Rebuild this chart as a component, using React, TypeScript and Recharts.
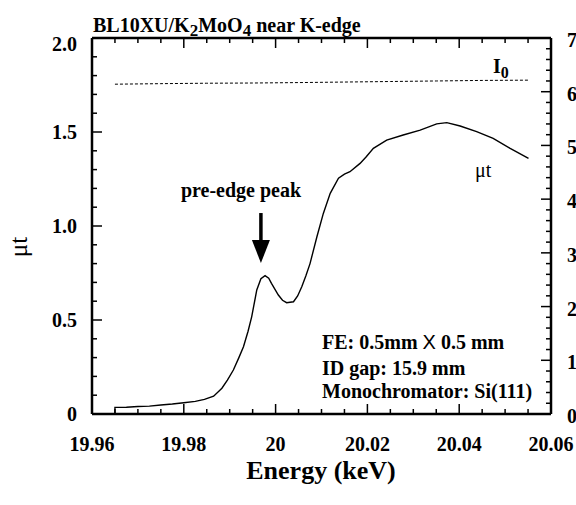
import { LineChart, Line, XAxis, YAxis, ReferenceLine, ReferenceDot } from 'recharts';

// μt (左軸) — 目視で読み取った値
const ENERGY = [
  19.965, 19.965, 19.9675, 19.97, 19.9725, 19.975, 19.9775, 19.98, 19.9825, 19.9845,
  19.9865, 19.9883, 19.9895, 19.9908, 19.992, 19.993, 19.994, 19.9948, 19.9959, 19.9968,
  19.9977, 19.9985, 19.9991, 20.0006, 20.0015, 20.0024, 20.0039, 20.0048, 20.0057, 20.0066,
  20.0075, 20.009, 20.0104, 20.0119, 20.0137, 20.015, 20.0162, 20.0184, 20.0198, 20.0213,
  20.0242, 20.0278, 20.0315, 20.0351, 20.0373, 20.0402, 20.0438, 20.0474, 20.0511, 20.0551,
];
const MU = [
  0, 0.035, 0.036, 0.04, 0.042, 0.048, 0.053, 0.06, 0.067, 0.078,
  0.095, 0.137, 0.18, 0.234, 0.3, 0.358, 0.44, 0.518, 0.66, 0.72,
  0.736, 0.722, 0.695, 0.633, 0.605, 0.592, 0.597, 0.628, 0.677, 0.735,
  0.8, 0.943, 1.067, 1.174, 1.254, 1.276, 1.289, 1.333, 1.37, 1.413,
  1.457, 1.484, 1.51, 1.543, 1.55, 1.532, 1.502, 1.466, 1.413, 1.36,
];

// I0 (右軸)
const I0_ENERGY = [19.965, 19.975, 19.985, 19.995, 20.005, 20.015, 20.025, 20.035, 20.045, 20.055];
const I0 = [6.14, 6.15, 6.158, 6.162, 6.17, 6.18, 6.19, 6.2, 6.21, 6.215];

const X_MAJOR = [19.96, 19.98, 20, 20.02, 20.04, 20.06];
const X_LABELS = ['19.96', '19.98', '20', '20.02', '20.04', '20.06'];
const L_MAJOR = [0, 0.5, 1, 1.5, 2];
const L_LABELS = ['0', '0.5', '1.0', '1.5', '2.0'];
const R_MAJOR = [0, 1, 2, 3, 4, 5, 6, 7];
const R_LABELS = ['0', '1', '2', '3', '4', '5', '6', '7'];

const W = 576;
const H = 505;
const PLOT_H = 376;
const FONT = '"Liberation Serif", "Times New Roman", serif';

function steps(from: number, to: number, step: number): number[] {
  const n = Math.round((to - from) / step);
  return Array.from({ length: n + 1 }, (_, i) => Math.round((from + i * step) * 10000) / 10000);
}

const xTicks = steps(19.96, 20.06, 0.005);
const lTicks = steps(0, 2, 0.1);
const rTicks = steps(0, 7, 0.2);

const muData = ENERGY.map((x, i) => ({ x, mu: MU[i] }));
const i0Data = I0_ENERGY.map((x, i) => ({ x, i0: I0[i] }));

function labelFor(v: number, majors: number[], labels: string[]): string | null {
  const i = majors.findIndex((m) => Math.abs(m - v) < 1e-6);
  return i >= 0 ? labels[i] : null;
}

const tickText = { fontFamily: FONT, fontWeight: 700, fontSize: 20, fill: '#000' };

function XTick(props: any) {
  const { x, y, payload } = props;
  const label = labelFor(payload.value, X_MAJOR, X_LABELS);
  const len = label ? 10 : 5;
  return (
    <g>
      <line x1={x} x2={x} y1={y} y2={y - len} stroke="#000" strokeWidth={1.5} />
      <line x1={x} x2={x} y1={y - PLOT_H} y2={y - PLOT_H + len} stroke="#000" strokeWidth={1.5} />
      {label && (
        <text x={x} y={y + 37} textAnchor="middle" style={tickText}>
          {label}
        </text>
      )}
    </g>
  );
}

function LeftTick(props: any) {
  const { x, y, payload } = props;
  const label = labelFor(payload.value, L_MAJOR, L_LABELS);
  const len = label ? 10 : 5;
  // 最上段の "2.0" は元図で少し下がっている
  const dy = label === '2.0' ? 13 : 7;
  return (
    <g>
      <line x1={x} x2={x + len} y1={y} y2={y} stroke="#000" strokeWidth={1.5} />
      {label && (
        <text x={x - 15} y={y + dy} textAnchor="end" style={tickText}>
          {label}
        </text>
      )}
    </g>
  );
}

function RightTick(props: any) {
  const { x, y, payload } = props;
  const label = labelFor(payload.value, R_MAJOR, R_LABELS);
  const len = label ? 10 : 5;
  return (
    <g>
      <line x1={x} x2={x - len} y1={y} y2={y} stroke="#000" strokeWidth={1.5} />
      {label && (
        <text x={x + 16} y={y + 9} textAnchor="start" style={tickText}>
          {label}
        </text>
      )}
    </g>
  );
}

const arrowHead = (p: any) => (
  <polygon points={`${p.cx - 9},${p.cy - 23} ${p.cx + 9},${p.cy - 23} ${p.cx},${p.cy}`} fill="#000" />
);

export default function App() {
  const bold = { fontFamily: FONT, fontWeight: 700, fontSize: 20, fill: '#000' };
  return (
    <div
      style={{
        position: 'fixed',
        left: 0,
        top: 0,
        width: W,
        height: H,
        overflow: 'hidden',
        background: '#fff',
      }}
    >
      <LineChart width={W} height={H} margin={{ top: 38, right: 5, bottom: 61, left: 32 }}>
        <XAxis
          dataKey="x"
          type="number"
          domain={[19.96, 20.06]}
          ticks={xTicks}
          interval={0}
          allowDataOverflow
          height={30}
          tickSize={0}
          tickMargin={0}
          tickLine={false}
          axisLine={{ stroke: '#000', strokeWidth: 2.5 }}
          tick={XTick}
        />
        <YAxis
          yAxisId="left"
          type="number"
          domain={[0, 2]}
          ticks={lTicks}
          interval={0}
          allowDataOverflow
          width={60}
          tickSize={0}
          tickMargin={0}
          tickLine={false}
          axisLine={{ stroke: '#000', strokeWidth: 2.5 }}
          tick={LeftTick}
        />
        <YAxis
          yAxisId="right"
          orientation="right"
          type="number"
          domain={[0, 7]}
          ticks={rTicks}
          interval={0}
          allowDataOverflow
          width={20}
          tickSize={0}
          tickMargin={0}
          tickLine={false}
          axisLine={{ stroke: '#000', strokeWidth: 2.5 }}
          tick={RightTick}
        />
        <ReferenceLine yAxisId="left" y={2} stroke="#000" strokeWidth={2.5} />
        <Line
          data={i0Data}
          yAxisId="right"
          dataKey="i0"
          type="linear"
          stroke="#000"
          strokeWidth={1}
          strokeDasharray="3 2"
          dot={false}
          isAnimationActive={false}
        />
        <Line
          data={muData}
          yAxisId="left"
          dataKey="mu"
          type="linear"
          stroke="#000"
          strokeWidth={1.4}
          dot={false}
          isAnimationActive={false}
        />
        <ReferenceLine
          yAxisId="left"
          segment={[
            { x: 19.9968, y: 1.069 },
            { x: 19.9968, y: 0.9 },
          ]}
          stroke="#000"
          strokeWidth={3.5}
        />
        <ReferenceDot yAxisId="left" x={19.9968} y={0.803} r={1} shape={arrowHead} />
      </LineChart>
      <svg
        width={W}
        height={H}
        style={{ position: 'absolute', left: 0, top: 0, pointerEvents: 'none' }}
      >
        <text x={93} y={32} style={bold}>
          BL10XU/K
          <tspan dy={4} fontSize={17}>2</tspan>
          <tspan dy={-4}>MoO</tspan>
          <tspan dy={4} fontSize={17}>4</tspan>
          <tspan dy={-4}> near K-edge</tspan>
        </text>
        <text x={493} y={73} style={bold}>
          I<tspan dy={5} fontSize={16}>0</tspan>
        </text>
        <text x={475} y={177} style={{ ...bold, fontWeight: 400 }}>
          μt
        </text>
        <text x={241} y={197} textAnchor="middle" style={bold}>
          pre-edge peak
        </text>
        <text x={322} y={349} style={bold}>
          FE: 0.5mm{' '}
          <tspan fontFamily='"Liberation Sans", sans-serif' fontWeight={400}>
            X
          </tspan>{' '}
          0.5 mm
        </text>
        <text x={322} y={375} style={bold}>
          ID gap: 15.9 mm
        </text>
        <text x={322} y={398} style={bold}>
          Monochromator: Si(111)
        </text>
        <text x={321} y={479} textAnchor="middle" style={{ ...bold, fontSize: 26 }}>
          Energy (keV)
        </text>
        <text
          x={0}
          y={0}
          textAnchor="middle"
          transform="translate(27 247) rotate(-90)"
          style={{ ...bold, fontWeight: 400, fontSize: 25 }}
        >
          μt
        </text>
      </svg>
    </div>
  );
}
